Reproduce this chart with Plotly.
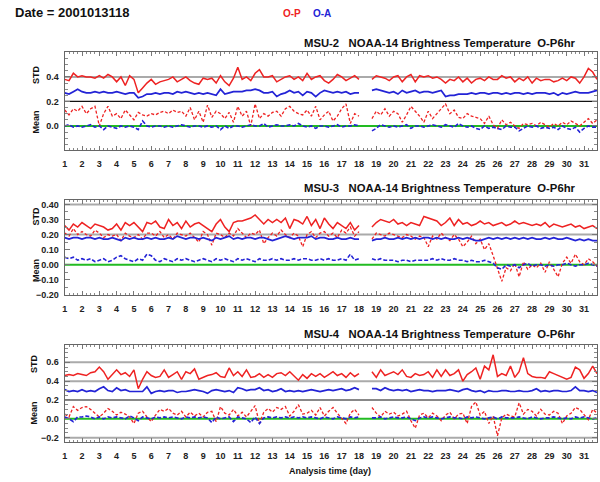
import plotly.graph_objects as go

# ---------------- data (4 analyses per day, 6-hourly) ----------------
start_day = 1.0
n_per_day = 4
n_days = 31
N = None

msu2_op_std = [
    0.38,0.37,0.43,0.40, 0.41,0.40,0.40,0.39, 0.41,0.39,0.42,0.40, 0.36,0.40,0.33,0.41,
    0.38,0.27,0.31,0.35, 0.38,0.34,0.36,0.37, 0.38,0.40,0.36,0.38, 0.40,0.37,0.35,0.34,
    0.39,0.38,0.39,0.35, 0.41,0.36,0.33,0.39, 0.48,0.38,0.40,0.37, 0.43,0.46,0.40,0.40,
    0.41,0.36,0.38,0.40, 0.41,0.38,0.40,0.37, 0.43,0.38,0.40,0.41, 0.37,0.35,0.38,0.42,
    0.40,0.37,0.39,0.41, 0.38,N,N,0.38, 0.41,0.40,0.39,0.37, 0.40,0.41,0.36,0.40,
    0.42,0.36,0.41,0.40, 0.41,0.39,0.40,0.38, 0.35,0.38,0.37,0.40, 0.36,0.39,0.35,0.38,
    0.39,0.37,0.40,0.38, 0.38,0.41,0.39,0.40, 0.36,0.39,0.37,0.40, 0.35,0.39,0.37,0.38,
    0.38,0.36,0.37,0.39, 0.37,0.40,0.39,0.35, 0.40,0.47,0.44,0.38]
msu2_oa_std = [
    0.27,0.26,0.28,0.30, 0.28,0.27,0.27,0.28, 0.27,0.28,0.27,0.27, 0.28,0.27,0.26,0.27,
    0.27,0.23,0.24,0.26, 0.26,0.27,0.26,0.27, 0.27,0.26,0.28,0.27, 0.28,0.27,0.26,0.27,
    0.26,0.27,0.26,0.25, 0.30,0.26,0.27,0.28, 0.28,0.28,0.29,0.29, 0.30,0.29,0.27,0.27,
    0.28,0.24,0.26,0.27, 0.29,0.27,0.28,0.25, 0.28,0.27,0.24,0.27, 0.29,0.28,0.27,0.28,
    0.27,0.28,0.26,0.27, 0.27,N,N,0.29, 0.30,0.29,0.28,0.27, 0.28,0.26,0.29,0.27,
    0.28,0.29,0.27,0.28, 0.28,0.27,0.28,0.29, 0.24,0.25,0.25,0.26, 0.26,0.26,0.27,0.26,
    0.27,0.27,0.26,0.27, 0.27,0.26,0.27,0.26, 0.27,0.27,0.26,0.27, 0.26,0.27,0.27,0.27,
    0.26,0.27,0.25,0.27, 0.26,0.27,0.28,0.27, 0.27,0.27,0.28,0.29]
msu2_op_mean = [
    0.13,0.09,0.14,0.12, 0.16,0.10,0.14,0.16, 0.00,0.10,0.16,0.08, 0.10,0.06,0.13,0.09,
    0.05,0.11,0.09,0.08, 0.10,0.09,0.11,0.12, 0.10,0.13,0.11,0.12, 0.08,0.15,0.05,0.12,
    0.03,0.17,0.07,0.12, 0.10,0.06,0.11,0.03, 0.16,0.08,0.12,0.00, 0.18,0.06,0.10,0.08,
    0.11,0.12,0.08,0.14, 0.16,0.12,0.10,0.09, 0.13,0.08,0.16,0.05, 0.09,0.12,0.04,0.08,
    0.14,0.18,0.02,0.10, 0.08,N,N,0.06, 0.12,0.09,0.14,0.08, 0.12,0.10,0.03,0.09,
    0.16,0.12,0.08,0.03, 0.12,0.06,0.10,0.14, 0.18,0.10,0.13,0.07, 0.06,0.10,0.08,0.07,
    0.06,0.02,0.08,0.01, -0.02,0.05,0.01,0.03, 0.00,-0.02,0.02,0.01, 0.02,0.00,0.03,0.01,
    -0.01,0.02,0.00,0.03, 0.01,0.04,0.02,0.00, 0.03,0.06,0.02,0.05]
msu2_oa_mean = [
    0.00,0.01,-0.01,0.00, -0.01,0.00,0.01,-0.01, 0.00,-0.03,0.00,-0.01, -0.02,0.00,-0.01,0.00,
    -0.01,-0.03,0.04,0.00, -0.01,0.00,0.00,-0.01, 0.00,-0.01,0.00,0.01, 0.00,-0.01,0.00,0.00,
    -0.01,0.00,-0.01,0.00, -0.03,0.00,-0.02,0.00, 0.00,-0.01,0.00,0.01, 0.00,0.00,0.02,-0.01,
    0.00,0.01,0.00,0.00, 0.01,0.00,0.02,0.00, -0.01,0.00,-0.02,0.00, 0.00,-0.01,0.00,0.01,
    -0.01,0.00,0.00,0.01, 0.00,N,N,-0.04, -0.02,0.01,0.00,-0.01, 0.00,-0.01,0.00,0.01,
    -0.02,0.00,0.00,-0.01, 0.00,0.01,0.00,-0.01, 0.01,0.00,-0.01,0.02, 0.00,-0.01,0.00,-0.02,
    -0.03,0.00,-0.02,-0.01, -0.02,-0.03,0.00,-0.01, -0.01,-0.04,-0.02,0.00, -0.01,0.00,-0.02,-0.01,
    -0.02,-0.01,-0.03,0.00, -0.02,-0.03,-0.01,-0.05, -0.02,0.00,-0.01,-0.01]

msu3_op_std = [
    0.26,0.23,0.27,0.25, 0.28,0.26,0.24,0.27, 0.26,0.25,0.23,0.24, 0.27,0.23,0.28,0.26,
    0.28,0.25,0.22,0.28, 0.27,0.29,0.25,0.24, 0.30,0.26,0.28,0.24, 0.29,0.25,0.27,0.28,
    0.26,0.24,0.22,0.27, 0.30,0.25,0.22,0.28, 0.29,0.29,0.30,0.31, 0.33,0.30,0.27,0.30,
    0.28,0.30,0.28,0.31, 0.24,0.30,0.29,0.27, 0.32,0.26,0.30,0.24, 0.31,0.27,0.24,0.28,
    0.26,0.24,0.28,0.23, 0.26,N,N,0.25, 0.28,0.30,0.29,0.28, 0.30,0.27,0.28,0.26,
    0.28,0.27,0.26,0.32, 0.31,0.30,0.29,0.26, 0.28,0.31,0.26,0.30, 0.27,0.28,0.26,0.27,
    0.29,0.27,0.28,0.26, 0.27,0.28,0.26,0.27, 0.29,0.27,0.28,0.27, 0.26,0.27,0.26,0.28,
    0.25,0.27,0.26,0.25, 0.26,0.27,0.25,0.26, 0.24,0.25,0.26,0.24]
msu3_oa_std = [
    0.18,0.17,0.18,0.18, 0.17,0.18,0.18,0.17, 0.18,0.17,0.17,0.18, 0.17,0.16,0.18,0.17,
    0.18,0.17,0.17,0.18, 0.17,0.18,0.17,0.17, 0.18,0.17,0.19,0.18, 0.17,0.18,0.18,0.17,
    0.18,0.17,0.16,0.18, 0.17,0.18,0.19,0.17, 0.18,0.17,0.18,0.18, 0.17,0.18,0.18,0.17,
    0.16,0.17,0.18,0.19, 0.18,0.17,0.18,0.18, 0.18,0.19,0.17,0.18, 0.18,0.17,0.17,0.18,
    0.17,0.17,0.18,0.17, 0.17,N,N,0.16, 0.17,0.17,0.18,0.17, 0.17,0.18,0.17,0.18,
    0.17,0.18,0.17,0.18, 0.18,0.17,0.18,0.17, 0.18,0.17,0.17,0.18, 0.17,0.18,0.17,0.16,
    0.16,0.17,0.18,0.17, 0.18,0.17,0.18,0.17, 0.18,0.17,0.18,0.17, 0.18,0.17,0.17,0.18,
    0.17,0.18,0.17,0.17, 0.18,0.17,0.16,0.17, 0.16,0.17,0.16,0.16]
msu3_op_mean = [
    0.21,0.19,0.24,0.20, 0.22,0.20,0.19,0.23, 0.21,0.18,0.20,0.19, 0.20,0.16,0.21,0.19,
    0.18,0.20,0.17,0.21, 0.21,0.19,0.22,0.18, 0.20,0.17,0.21,0.20, 0.19,0.21,0.18,0.15,
    0.22,0.20,0.13,0.21, 0.20,0.18,0.21,0.19, 0.24,0.21,0.18,0.21, 0.20,0.23,0.14,0.18,
    0.21,0.19,0.23,0.20, 0.18,0.21,0.19,0.12, 0.20,0.22,0.18,0.21, 0.22,0.19,0.21,0.18,
    0.23,0.21,0.25,0.19, 0.22,N,N,0.17, 0.21,0.20,0.19,0.21, 0.20,0.19,0.18,0.20,
    0.19,0.17,0.19,0.18, 0.12,0.19,0.17,0.21, 0.18,0.16,0.20,0.17, 0.12,0.15,0.19,0.14,
    0.17,0.10,0.14,0.06, -0.03,-0.11,-0.02,-0.04, 0.01,-0.08,0.02,-0.03, 0.00,-0.02,0.01,-0.05,
    0.02,-0.03,-0.08,0.01, 0.05,0.01,0.07,0.02, 0.00,0.04,0.02,-0.01]
msu3_oa_mean = [
    0.05,0.04,0.05,0.03, 0.04,0.03,0.04,0.02, 0.03,0.04,0.02,0.03, 0.05,0.06,0.04,0.03,
    0.02,0.04,0.03,0.07, 0.06,0.03,0.02,0.04, 0.03,0.02,0.04,0.03, 0.04,0.03,0.02,0.03,
    0.04,0.03,0.02,0.04, 0.03,0.04,0.03,0.02, 0.04,0.03,0.04,0.03, 0.02,0.04,0.03,0.03,
    0.04,0.03,0.04,0.03, 0.03,0.04,0.03,0.04, 0.04,0.03,0.03,0.04, 0.03,0.04,0.03,0.03,
    0.04,0.03,0.07,0.03, 0.04,N,N,0.04, 0.03,0.04,0.03,0.03, 0.03,0.02,0.03,0.03,
    0.02,0.03,0.03,0.03, 0.03,0.04,0.03,0.04, 0.03,0.03,0.04,0.03, 0.03,0.02,0.03,0.02,
    0.02,0.03,0.02,0.01, -0.02,-0.03,0.00,-0.01, 0.00,-0.02,0.00,0.01, -0.01,0.00,0.00,-0.01,
    0.00,-0.01,0.00,0.00, 0.01,0.00,-0.01,0.00, 0.00,0.01,0.00,-0.01]

msu4_op_std = [
    0.46,0.47,0.46,0.48, 0.47,0.46,0.49,0.50, 0.55,0.50,0.42,0.47, 0.52,0.47,0.49,0.45,
    0.52,0.32,0.42,0.50, 0.46,0.44,0.45,0.52, 0.44,0.47,0.50,0.42, 0.50,0.48,0.53,0.42,
    0.44,0.46,0.47,0.49, 0.45,0.44,0.54,0.46, 0.50,0.45,0.52,0.44, 0.45,0.48,0.44,0.47,
    0.44,0.48,0.49,0.46, 0.50,0.45,0.41,0.47, 0.43,0.48,0.45,0.48, 0.44,0.47,0.50,0.46,
    0.48,0.44,0.49,0.45, 0.48,N,N,0.50, 0.44,0.52,0.46,0.48, 0.50,0.47,0.52,0.45,
    0.44,0.48,0.46,0.47, 0.50,0.44,0.52,0.45, 0.52,0.46,0.48,0.52, 0.40,0.47,0.50,0.54,
    0.42,0.56,0.52,0.68, 0.45,0.48,0.46,0.56, 0.44,0.50,0.65,0.48, 0.45,0.44,0.44,0.43,
    0.50,0.48,0.46,0.44, 0.42,0.44,0.55,0.52, 0.43,0.48,0.56,0.48]
msu4_oa_std = [
    0.31,0.29,0.30,0.29, 0.31,0.29,0.30,0.29, 0.32,0.34,0.30,0.29, 0.33,0.30,0.31,0.29,
    0.29,0.29,0.29,0.34, 0.27,0.29,0.30,0.29, 0.30,0.30,0.28,0.29, 0.29,0.30,0.31,0.30,
    0.29,0.27,0.30,0.31, 0.30,0.29,0.30,0.28, 0.33,0.32,0.30,0.31, 0.31,0.33,0.30,0.31,
    0.29,0.30,0.32,0.29, 0.30,0.29,0.30,0.29, 0.30,0.31,0.30,0.29, 0.30,0.31,0.30,0.31,
    0.32,0.30,0.31,0.33, 0.31,N,N,0.32, 0.32,0.30,0.33,0.31, 0.30,0.31,0.30,0.31,
    0.29,0.30,0.31,0.30, 0.30,0.29,0.30,0.30, 0.30,0.31,0.30,0.29, 0.31,0.32,0.30,0.29,
    0.30,0.28,0.30,0.29, 0.29,0.30,0.30,0.29, 0.29,0.30,0.29,0.29, 0.30,0.32,0.29,0.30,
    0.29,0.30,0.30,0.29, 0.29,0.30,0.34,0.30, 0.30,0.29,0.30,0.28]
msu4_op_mean = [
    0.05,0.02,0.13,0.09, 0.12,0.13,0.10,0.06, 0.02,0.06,0.11,0.08, 0.04,0.07,0.05,0.02,
    -0.05,0.06,0.08,0.02, -0.03,0.04,0.10,0.08, 0.11,0.06,0.04,0.08, 0.02,0.07,0.03,0.06,
    0.02,0.07,0.08,-0.03, 0.13,0.06,0.04,0.10, 0.03,0.07,0.02,0.08, 0.14,-0.05,0.07,0.11,
    0.07,0.12,0.10,0.13, 0.03,0.08,0.15,0.05, 0.06,0.09,0.04,0.12, 0.03,0.08,0.12,0.06,
    0.00,-0.05,0.06,0.10, 0.04,N,N,0.12, 0.06,0.02,0.08,0.05, 0.07,0.03,0.05,0.08,
    -0.02,-0.10,0.04,0.06, 0.01,0.06,0.03,-0.02, 0.04,0.07,0.00,0.05, 0.06,-0.05,0.13,0.18,
    0.04,0.08,-0.05,0.03, -0.18,0.01,0.05,0.03, 0.02,0.17,0.05,0.10, 0.08,0.03,0.10,0.05,
    0.04,0.08,0.06,-0.05, 0.03,0.06,0.12,0.10, 0.04,-0.01,0.10,0.06]
msu4_oa_mean = [
    0.02,0.00,-0.03,0.02, 0.02,0.03,0.02,0.00, 0.02,0.00,0.02,0.01, 0.02,0.01,0.00,0.03,
    0.01,-0.02,0.02,0.01, 0.00,0.02,0.01,0.02, 0.01,0.02,0.01,0.00, 0.02,0.01,0.02,0.01,
    0.02,0.01,-0.04,0.02, 0.00,0.01,0.02,-0.03, 0.02,0.01,0.00,-0.04, 0.02,-0.05,0.01,0.02,
    0.01,0.02,0.01,0.02, 0.01,0.02,0.01,0.02, 0.01,0.02,0.01,0.00, 0.02,0.01,0.00,0.02,
    0.01,0.00,0.02,0.01, 0.02,N,N,0.01, 0.01,0.02,0.00,0.01, 0.02,0.01,0.01,0.02,
    0.00,-0.02,0.01,0.02, 0.01,0.02,0.01,0.00, 0.01,0.02,0.01,0.01, 0.00,0.02,0.01,0.02,
    0.01,0.00,0.01,0.02, 0.00,0.02,0.01,0.01, 0.01,0.02,0.01,0.00, 0.02,0.01,0.00,0.01,
    0.01,0.02,0.01,0.00, 0.01,0.00,0.02,0.01, 0.02,0.01,0.00,0.01]

panel_titles = ["MSU-2   NOAA-14 Brightness Temperature  O-P6hr",
                "MSU-3   NOAA-14 Brightness Temperature  O-P6hr",
                "MSU-4   NOAA-14 Brightness Temperature  O-P6hr"]
day_ticks = list(range(1, 32))
y_ticks = [[0.0, 0.2, 0.4],
           [-0.2, -0.1, 0.0, 0.1, 0.2, 0.3, 0.4],
           [-0.2, 0.0, 0.2, 0.4, 0.6]]
y_tick_fmt = [".1f", ".2f", ".1f"]
y_ranges = [[-0.2, 0.6], [-0.2, 0.43], [-0.25, 0.78]]
# reference lines: (level, colour)
ref_lines = [[(0.4, "#aaaaaa"), (0.2, "#111111"), (0.0, "#22bb22")],
             [(0.4, "#aaaaaa"), (0.2, "#aaaaaa"), (0.0, "#22bb22")],
             [(0.6, "#aaaaaa"), (0.4, "#aaaaaa"), (0.2, "#888888"), (-0.2, "#aaaaaa"), (0.0, "#22bb22")]]

x = [start_day + i / n_per_day for i in range(n_days * n_per_day)]

RED = "#ee2222"
BLUE = "#2323d6"

panels = [
    (msu2_op_std, msu2_oa_std, msu2_op_mean, msu2_oa_mean),
    (msu3_op_std, msu3_oa_std, msu3_op_mean, msu3_oa_mean),
    (msu4_op_std, msu4_oa_std, msu4_op_mean, msu4_oa_mean),
]

W, H = 600, 482
px = lambda v: v / W
py = lambda v: 1 - v / H

x_dom = [px(62), px(597)]
y_doms = [[py(152), py(53)], [py(298), py(202)], [py(447), py(349)]]

fig = go.Figure()
FONT = "Liberation Sans, Arial, sans-serif"

for k, (op_s, oa_s, op_m, oa_m) in enumerate(panels):
    xa = "x" if k == 0 else f"x{k+1}"
    ya = "y" if k == 0 else f"y{k+1}"
    for vals, col, dash, w in [(op_m, RED, "3px,2px", 1.3), (oa_m, BLUE, "4px,2px", 1.6),
                               (op_s, RED, "solid", 1.5), (oa_s, BLUE, "solid", 1.7)]:
        fig.add_trace(go.Scatter(x=x, y=vals, mode="lines", xaxis=xa, yaxis=ya,
                                 line=dict(color=col, width=w, dash=dash),
                                 connectgaps=False, showlegend=False, hoverinfo="skip"))
    for lvl, col in ref_lines[k]:
        fig.add_shape(type="line", xref=f"{xa} domain", yref=ya, x0=0, x1=1, y0=lvl, y1=lvl,
                      line=dict(color=col, width=2 if col != "#111111" else 1.3), layer="below")

    axis_common = dict(showline=True, linecolor="#666666", linewidth=1, mirror="ticks",
                       ticks="inside", tickcolor="#777777", showgrid=False, zeroline=False)
    fig.layout[("xaxis" if k == 0 else f"xaxis{k+1}")] = dict(
        domain=x_dom, anchor=ya, range=[1, 31.75], tickvals=day_ticks, ticklen=4,
        minor=dict(dtick=0.25, tick0=1, ticks="inside", ticklen=2, tickcolor="#888888"),
        tickfont=dict(family=FONT, size=9, color="#222222", weight="bold"),
        ticklabelstandoff=5, **axis_common)
    fig.layout[("yaxis" if k == 0 else f"yaxis{k+1}")] = dict(
        domain=y_doms[k], anchor=xa, range=y_ranges[k], tickvals=y_ticks[k],
        tickformat=y_tick_fmt[k], ticklen=5,
        minor=dict(nticks=5, ticks="inside", ticklen=3, tickcolor="#888888"),
        tickfont=dict(family=FONT, size=9, color="#222222", weight="bold"),
        ticklabelstandoff=3, **axis_common)

annos = []
def txt(t, x0, y0, size, color="#111111", angle=0, xanchor="center"):
    annos.append(dict(text=t, x=px(x0), y=py(y0), xref="paper", yref="paper",
                      showarrow=False, xanchor=xanchor, yanchor="middle", textangle=angle,
                      font=dict(family=FONT, size=size, color=color, weight="bold")))

txt("Date = 2001013118", 10, 13, 13, xanchor="left")
txt("O-P", 290, 14, 10, color=RED)
txt("O-A", 321, 14, 10, color=BLUE)
title_y = [43, 190, 337]
for k in range(3):
    txt(panel_titles[k], 578, title_y[k], 11.3, xanchor="right")
std_pos = [(33, 75), (33, 218), (31, 367)]
mean_pos = [(33, 123), (33, 273), (31, 417)]
for k in range(3):
    txt("STD", std_pos[k][0], std_pos[k][1], 9, angle=-90)
    txt("Mean", mean_pos[k][0], mean_pos[k][1], 9, angle=-90)
txt("Analysis time (day)", 329, 476, 9)

fig.update_layout(width=W, height=H, margin=dict(l=0, r=0, t=0, b=0),
                  paper_bgcolor="white", plot_bgcolor="white",
                  annotations=annos, showlegend=False)

fig.write_html("out.html")
